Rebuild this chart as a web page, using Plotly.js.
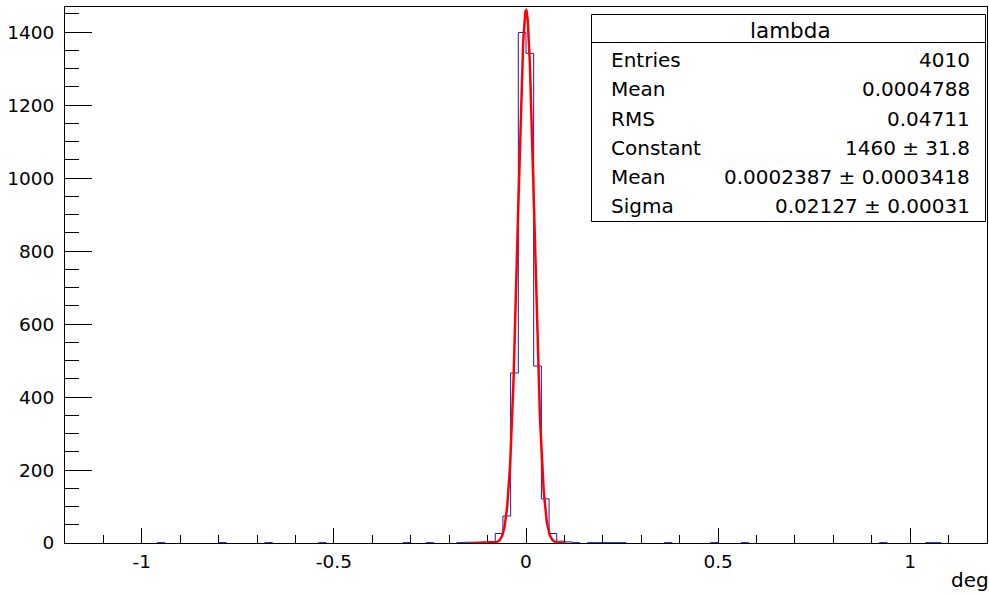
<!DOCTYPE html>
<html>
<head>
<meta charset="utf-8">
<script src="https://cdn.plot.ly/plotly-3.0.1.min.js"></script>
<style>html,body{margin:0;padding:0;background:#fff;}#chart{width:989px;height:594px;}</style>
</head>
<body>
<div id="chart"></div>
<script>
// Histogram "lambda": lower edges of the non-empty bins (bin width 0.02) and their counts
const binLow = [-0.96,-0.80,-0.68,-0.54,-0.32,-0.26,-0.18,-0.16,-0.14,-0.12,-0.10,
                -0.08,-0.06,-0.04,-0.02,0.00,0.02,0.04,0.06,
                0.08,0.10,0.12,0.16,0.18,0.20,0.22,0.24,0.36,0.48,0.56,0.92,1.04,1.06];
const binCounts = [1,1,1,1,1,1,1,2,1,2,4,
                   26,74,466,1399,1342,485,121,26,
                   5,3,1,1,1,1,1,1,1,1,1,1,1,1];
const histMin = -1.2, histMax = 1.2, binWidth = 0.02;

// Axis tick labels
const xTickVals = [-1, -0.5, 0, 0.5, 1];
const xTickText = ["-1", "-0.5", "0", "0.5", "1"];
const yTickVals = [0, 200, 400, 600, 800, 1000, 1200, 1400];
const yTickText = ["0", "200", "400", "600", "800", "1000", "1200", "1400"];

// Gaussian fit parameters (from the stats box)
const fitConstant = 1460, fitMean = 0.0002387, fitSigma = 0.02127;
const fitRange = [-0.142, 0.104];

// Stats box
const statsTitle = "lambda";
const statsLabels = ["Entries","Mean","RMS","Constant","Mean","Sigma"];
const statsValues = ["4010","0.0004788","0.04711","1460 \u00b1 31.8","0.0002387 \u00b1 0.0003418","0.02127 \u00b1 0.00031"];
const xTitle = "deg";

// ---- build histogram step outline ----
const nBins = Math.round((histMax - histMin) / binWidth);
const counts = new Array(nBins).fill(0);
binLow.forEach((lo, i) => { counts[Math.round((lo - histMin) / binWidth)] = binCounts[i]; });
const edge = k => histMin + k * binWidth;
const hx = [], hy = [];
let i = 0;
while (i < nBins) {
  if (counts[i] === 0) { i++; continue; }
  let j = i;
  while (j + 1 < nBins && counts[j + 1] > 0) j++;
  hx.push(edge(i)); hy.push(0);
  for (let k = i; k <= j; k++) { hx.push(edge(k), edge(k + 1)); hy.push(counts[k], counts[k]); }
  hx.push(edge(j + 1)); hy.push(0);
  hx.push(null); hy.push(null);
  i = j + 1;
}

// ---- fitted function ----
const fx = [], fy = [];
const nFit = 300;
for (let k = 0; k <= nFit; k++) {
  const x = fitRange[0] + (fitRange[1] - fitRange[0]) * k / nFit;
  fx.push(x);
  fy.push(fitConstant * Math.exp(-0.5 * Math.pow((x - fitMean) / fitSigma, 2)));
}

const fam = "'DejaVu Sans', Verdana, sans-serif";
const tickFont = {family: fam, size: 18.5, color: "#000"};
const statFont = {family: fam, size: 20, color: "#000"};
const titleFont = {family: fam, size: 21.5, color: "#000"};

const traces = [
  {x: hx, y: hy, type: "scatter", mode: "lines", line: {color: "#1a1ab0", width: 1}, hoverinfo: "skip", showlegend: false},
  {x: fx, y: fy, type: "scatter", mode: "lines", line: {color: "#ff0000", width: 2.5}, hoverinfo: "skip", showlegend: false}
];

// pixel helpers for stats box (plot area: x 65..987, y 7..543)
const L = 65, R = 987, T = 7, B = 543;
const px = v => (v - L) / (R - L);
const py = v => (B - v) / (B - T);

const shapes = [
  {type: "rect", xref: "paper", yref: "paper", x0: px(591.5), x1: px(985.5), y0: py(221.5), y1: py(14.5),
   line: {color: "#000", width: 1}, fillcolor: "#fff", layer: "above"},
  {type: "line", xref: "paper", yref: "paper", x0: px(591.5), x1: px(985.5), y0: py(42.5), y1: py(42.5),
   line: {color: "#000", width: 1}, layer: "above"}
];

const rowY = [60, 89, 118.5, 148, 177, 205.5];
const annotations = [
  {xref: "paper", yref: "paper", x: px(790), y: py(30.5), text: statsTitle, showarrow: false,
   xanchor: "center", yanchor: "middle", font: titleFont}
];
statsLabels.forEach((t, k) => {
  annotations.push({xref: "paper", yref: "paper", x: px(609), y: py(rowY[k]), text: t, showarrow: false,
    xanchor: "left", yanchor: "middle", font: statFont});
  annotations.push({xref: "paper", yref: "paper", x: px(972), y: py(rowY[k]), text: statsValues[k], showarrow: false,
    xanchor: "right", yanchor: "middle", font: statFont});
});
annotations.push({xref: "paper", yref: "paper", x: px(991), y: py(580), text: xTitle, showarrow: false,
  xanchor: "right", yanchor: "middle", font: statFont});

const layout = {
  width: 989, height: 594,
  margin: {l: L, r: 989 - R, t: T, b: 594 - B, pad: 0},
  paper_bgcolor: "#fff", plot_bgcolor: "#fff",
  font: tickFont,
  showlegend: false,
  xaxis: {
    range: [histMin, histMax], tickmode: "array", tickvals: xTickVals, ticktext: xTickText,
    ticks: "inside", ticklen: 15, tickwidth: 1, tickcolor: "#000",
    minor: {tick0: 0, dtick: 0.1, ticks: "inside", ticklen: 8, tickwidth: 1, tickcolor: "#000"},
    showgrid: false, zeroline: false, showline: true, mirror: true, linecolor: "#000", linewidth: 1,
    layer: "below traces", tickfont: tickFont, ticklabelstandoff: 2, title: {text: ""}
  },
  yaxis: {
    range: [0, 1469], tickmode: "array", tickvals: yTickVals, ticktext: yTickText,
    ticks: "inside", ticklen: 27, tickwidth: 1, tickcolor: "#000",
    minor: {tick0: 0, dtick: 50, ticks: "inside", ticklen: 14, tickwidth: 1, tickcolor: "#000"},
    showgrid: false, zeroline: false, showline: true, mirror: true, linecolor: "#000", linewidth: 1,
    layer: "below traces", tickfont: tickFont, ticklabelstandoff: 6, title: {text: ""}
  },
  shapes: shapes,
  annotations: annotations
};

Plotly.newPlot("chart", traces, layout, {staticPlot: true, displayModeBar: false});
</script>
</body>
</html>
